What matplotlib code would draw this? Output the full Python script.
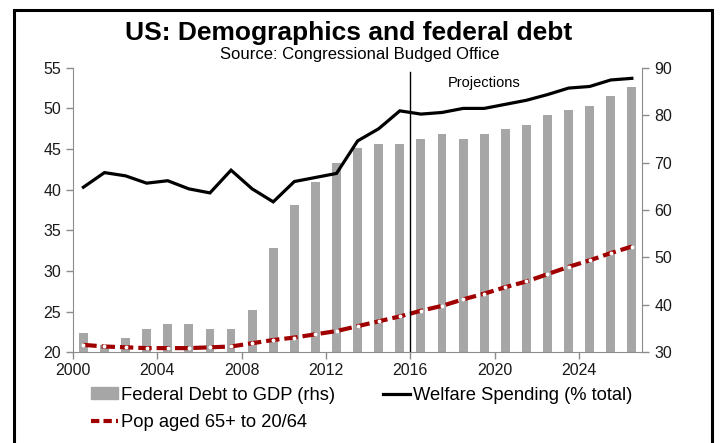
import numpy as np
import matplotlib
matplotlib.use("Agg")
import matplotlib.pyplot as plt
from matplotlib.patches import Rectangle, Patch
from matplotlib.lines import Line2D

plt.rcParams['font.family'] = ['Liberation Sans', 'DejaVu Sans']

# data
years = np.arange(2000, 2027)
debt_gdp = [34.0, 31.5, 33.0, 34.9, 36.0, 36.0, 34.9, 34.9, 38.9, 52.0,
            61.0, 66.0, 70.0, 73.0, 74.0, 74.0, 75.0, 76.0, 75.0, 76.0,
            77.0, 78.0, 80.0, 81.0, 82.0, 84.0, 86.0]
welfare = [40.3, 42.1, 41.7, 40.8, 41.1, 40.1, 39.6, 42.4, 40.1, 38.5,
           41.0, 41.5, 42.0, 46.0, 47.5, 49.7, 49.3, 49.5, 50.0, 50.0,
           50.5, 51.0, 51.7, 52.5, 52.7, 53.5, 53.7]
pop_ratio = [20.9, 20.7, 20.6, 20.5, 20.5, 20.5, 20.6, 20.7, 21.1, 21.5,
             21.8, 22.2, 22.6, 23.2, 23.8, 24.4, 25.1, 25.7, 26.5, 27.2,
             28.0, 28.7, 29.6, 30.5, 31.3, 32.2, 33.0]
tick_years = [2000, 2004, 2008, 2012, 2016, 2020, 2024]

spine_col = '#8c8c8c'
bar_col = '#a6a6a6'
red = '#a00000'

fig = plt.figure(figsize=(7.21, 4.43), dpi=100)
ax = fig.add_axes([0.101, 0.205, 0.790, 0.642])
ax2 = ax.twinx()

x = years + 0.5
ax2.bar(x, debt_gdp, width=0.42, color=bar_col, zorder=1)
ax.plot(x, welfare, color='black', lw=2.3, solid_joinstyle='miter', zorder=3)
ax.plot(x, pop_ratio, color=red, lw=3, dashes=(3.2, 1.2), zorder=4,
        marker='o', markersize=1.8, markerfacecolor='white', markeredgecolor='white')
ax.axvline(2016, ymax=0.985, color='black', lw=1, zorder=5)
ax.text(2019.5, 53.1, 'Projections', ha='center', va='center', fontsize=10.5)

ax.set_zorder(ax2.get_zorder() + 1)
ax.patch.set_visible(False)

ax.set_xlim(2000, 2027)
ax.set_ylim(20, 55)
ax2.set_ylim(30, 90)
ax.set_yticks(np.arange(20, 56, 5))
ax2.set_yticks(np.arange(30, 91, 10))
ax.set_xticks(tick_years)

for a in (ax, ax2):
    for s in a.spines.values():
        s.set_color(spine_col)
    a.spines['top'].set_visible(False)
    a.tick_params(colors=spine_col, labelcolor='#1a1a1a', labelsize=11.5, length=5, width=1)
ax.spines['right'].set_visible(False)
ax2.spines['left'].set_visible(False)
ax2.spines['bottom'].set_visible(False)
ax.tick_params(axis='x', pad=3)

fig.text(0.484, 0.925, 'US: Demographics and federal debt', ha='center', va='center',
         fontsize=19, fontweight='bold')
fig.text(0.499, 0.877, 'Source: Congressional Budged Office', ha='center', va='center',
         fontsize=12)

handles = [Patch(color=bar_col),
           Line2D([], [], color=red, lw=3, dashes=(2.0, 1.0)),
           Line2D([], [], color='black', lw=2.3)]
labels = ['Federal Debt to GDP (rhs)', 'Pop aged 65+ to 20/64', 'Welfare Spending (% total)']
fig.legend(handles, labels, ncol=2, loc='upper left', bbox_to_anchor=(0.126, 0.127),
           frameon=False, fontsize=13.2, handlelength=1.5, handletextpad=0.15,
           columnspacing=2.6, labelspacing=0.57, borderaxespad=0, borderpad=0,
           handleheight=0.6)

fig.patches.append(Rectangle((0.0194, -0.05), 0.968, 1.027, transform=fig.transFigure,
                             fill=False, edgecolor='black', lw=2.2, clip_on=False))

fig.savefig('out.png', dpi=100)
